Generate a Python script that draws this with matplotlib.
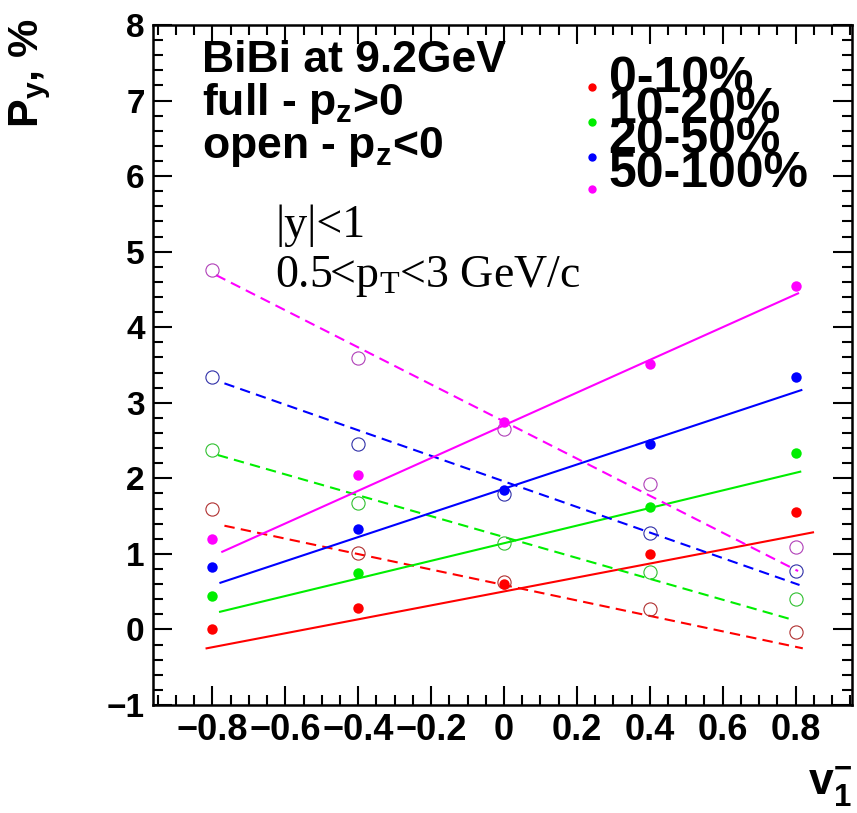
import numpy as np
import matplotlib
matplotlib.use("Agg")
import matplotlib.pyplot as plt
from matplotlib.ticker import MultipleLocator

plt.rcParams['font.family'] = ['Liberation Sans', 'DejaVu Sans']
plt.rcParams['mathtext.fontset'] = 'custom'
plt.rcParams['mathtext.bf'] = 'Liberation Sans:bold'
plt.rcParams['mathtext.rm'] = 'Liberation Serif'
plt.rcParams['mathtext.it'] = 'Liberation Serif:italic'

# data
v1_bins = [-0.8, -0.4, 0.0, 0.4, 0.8]
centrality = ['0-10%', '10-20%', '20-50%', '50-100%']
colors = ['#ff0000', '#00ee00', '#0000ff', '#ff00ff']
open_edge = ['#b03030', '#30c030', '#3030a8', '#b040b8']

# full markers: p_z > 0
py_pos = [
    [0.00, 0.28, 0.60, 1.00, 1.56],
    [0.44, 0.75, np.nan, 1.62, 2.34],
    [0.82, 1.33, 1.84, 2.46, 3.34],
    [1.20, 2.04, 2.74, 3.51, 4.55],
]
# open markers: p_z < 0
py_neg = [
    [1.59, 1.01, 0.63, 0.27, -0.03],
    [2.38, 1.67, 1.14, 0.76, 0.40],
    [3.34, 2.45, 1.79, 1.27, 0.77],
    [4.76, 3.59, 2.65, 1.93, 1.09],
]

# linear fits (x_start, y_start, x_end, y_end)
fit_pos = [
    (-0.816, -0.25, 0.848, 1.285),
    (-0.779, 0.234, 0.813, 2.088),
    (-0.778, 0.618, 0.816, 3.168),
    (-0.773, 1.028, 0.807, 4.448),
]
fit_neg = [
    (-0.767, 1.373, 0.820, -0.25),
    (-0.785, 2.308, 0.788, 0.134),
    (-0.767, 3.257, 0.811, 0.588),
    (-0.790, 4.690, 0.807, 0.773),
]

fig = plt.figure(figsize=(8.57, 8.13), dpi=100)
ax = fig.add_axes([153 / 857, 108 / 813, 699 / 857, 680 / 813])

for i in range(4):
    x0, y0, x1, y1 = fit_pos[i]
    ax.plot([x0, x1], [y0, y1], color=colors[i], lw=1.5, zorder=2)
    x0, y0, x1, y1 = fit_neg[i]
    ax.plot([x0, x1], [y0, y1], color=colors[i], lw=1.5, ls=(0, (5, 3)), zorder=2)

for i in range(4):
    ax.plot(v1_bins, py_neg[i], ls='none', marker='o', ms=9.5, mfc='none',
            mec=open_edge[i], mew=0.8, zorder=3)
    ax.plot(v1_bins, py_pos[i], ls='none', marker='o', ms=7.5, mfc=colors[i],
            mec=colors[i], mew=0, zorder=4)

ax.set_xlim(-0.963, 0.955)
ax.set_ylim(-1, 8)
ax.xaxis.set_minor_locator(MultipleLocator(0.05))
ax.yaxis.set_minor_locator(MultipleLocator(0.2))
ax.tick_params(which='both', direction='in', top=True, right=True, width=1.5)
ax.tick_params(which='major', length=14, pad=6)
ax.tick_params(which='minor', length=7)
for s in ax.spines.values():
    s.set_linewidth(1.8)

ax.set_xticks([-0.8, -0.6, -0.4, -0.2, 0, 0.2, 0.4, 0.6, 0.8])
ax.set_xticklabels(['\u22120.8', '\u22120.6', '\u22120.4', '\u22120.2', '0',
                    '0.2', '0.4', '0.6', '0.8'], fontweight='bold', fontsize=26)
ax.set_yticks(range(-1, 9))
ax.set_yticklabels(['\u22121'] + [str(v) for v in range(0, 9)],
                   fontweight='bold', fontsize=24)

# axis titles
fig.text(30 / 857, 1 - 18 / 813, r'$\mathbf{P_{y}}$, %', rotation=90, ha='center',
         va='top', fontsize=31, fontweight='bold')
fig.text(852 / 857, 4 / 813, r'$\mathbf{v_{1}^{-}}$', ha='right', va='bottom',
         fontsize=32, fontweight='bold')

# labels
ax.text(0.070, 0.931, 'BiBi at 9.2GeV', transform=ax.transAxes, fontsize=32,
        fontweight='bold', va='baseline')
ax.text(0.070, 0.868, r'full - $\mathbf{p_{z}}$>0', transform=ax.transAxes,
        fontsize=32, fontweight='bold', va='baseline')
ax.text(0.070, 0.804, r'open - $\mathbf{p_{z}}$<0', transform=ax.transAxes,
        fontsize=32, fontweight='bold', va='baseline')
ax.text(0.175, 0.688, '|y|<1', transform=ax.transAxes, fontsize=33,
        family='Liberation Serif', va='baseline')
ax.text(0.175, 0.615, r'0.5<$\mathrm{p_{T}}$<3 GeV/c', transform=ax.transAxes,
        fontsize=33, family='Liberation Serif', va='baseline')

# legend
leg_marker_y = [0.909, 0.857, 0.806, 0.759]
leg_text_y = [0.902, 0.856, 0.812, 0.762]
for i in range(4):
    ax.plot([0.628], [leg_marker_y[i]], transform=ax.transAxes, marker='o', ms=6,
            color=colors[i], mew=0, clip_on=False)
    ax.text(0.652, leg_text_y[i], centrality[i], transform=ax.transAxes,
            fontsize=36, fontweight='bold', va='baseline')

fig.savefig('out.png', dpi=100)
